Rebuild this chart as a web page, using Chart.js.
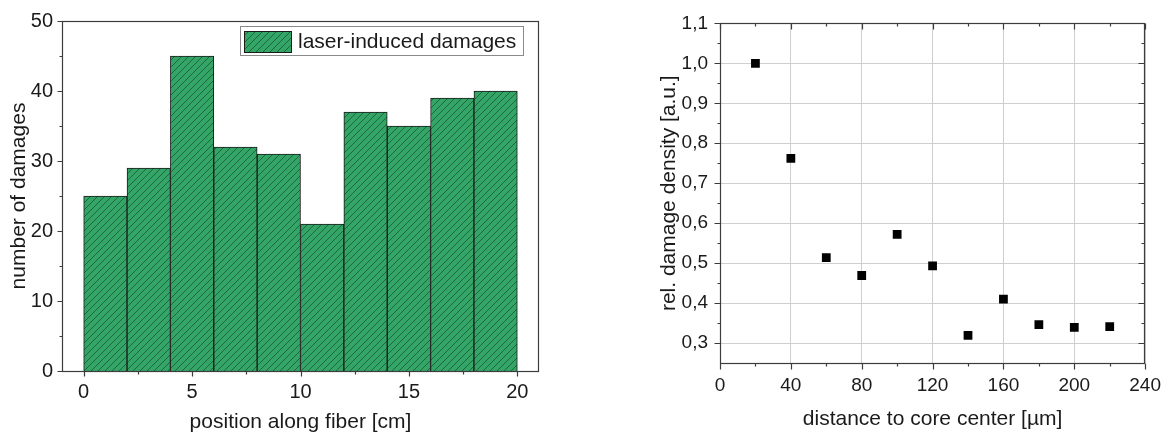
<!DOCTYPE html>
<html><head><meta charset="utf-8">
<script src="https://cdn.jsdelivr.net/npm/chart.js@4.4.1/dist/chart.umd.min.js"></script>
<style>
html,body{margin:0;padding:0;background:#fff;}
#wrap{position:relative;width:1172px;height:435px;overflow:hidden;background:#fff;}
#c1{position:absolute;left:0;top:0;}
#c2{position:absolute;left:655px;top:0;}
</style></head><body>
<div id="wrap">
<canvas id="c1" width="580" height="435"></canvas>
<canvas id="c2" width="517" height="435"></canvas>
</div>
<script>
// ---- data: left histogram ----
const binCenters = [1, 3, 5, 7, 9, 11, 13, 15, 17, 19];
const damageCounts = [25, 29, 45, 32, 31, 21, 37, 35, 39, 40];
const leftXTicks = [0, 5, 10, 15, 20];
const leftXMinor = [2.5, 7.5, 12.5, 17.5];
const leftYTicks = [0, 10, 20, 30, 40, 50];
const leftYMinor = [5, 15, 25, 35, 45];
// ---- data: right scatter ----
const distances = [20, 40, 60, 80, 100, 120, 140, 160, 180, 200, 220];
const relDensity = [1.0, 0.762, 0.514, 0.469, 0.572, 0.493, 0.319, 0.410, 0.346, 0.339, 0.341];
const rightXTicks = [0, 40, 80, 120, 160, 200, 240];
const rightXMinor = [20, 60, 100, 140, 180, 220];
const rightYTicks = [0.3, 0.4, 0.5, 0.6, 0.7, 0.8, 0.9, 1.0, 1.1];
const rightYMinor = [0.35, 0.45, 0.55, 0.65, 0.75, 0.85, 0.95, 1.05];

const FONT = "'Liberation Sans', Arial, sans-serif";
const TXT = '#1a1a1a';
const AXIS = '#3c3c3c';

function hatch() {
  const n = 7;
  const c = document.createElement('canvas');
  c.width = n; c.height = n;
  const g = c.getContext('2d');
  g.fillStyle = '#33a566';
  g.fillRect(0, 0, n, n);
  g.strokeStyle = 'rgba(22,70,42,0.75)';
  g.lineWidth = 0.9;
  g.beginPath();
  g.moveTo(0, n); g.lineTo(n, 0);
  g.moveTo(-1, 1); g.lineTo(1, -1);
  g.moveTo(n - 1, n + 1); g.lineTo(n + 1, n - 1);
  g.stroke();
  return g.createPattern(c, 'repeat');
}
const HATCH = hatch();

const frameTicks = {
  id: 'frameTicks',
  afterDatasetsDraw(chart, args, o) {
    const {ctx, chartArea: a, scales: {x, y}} = chart;
    const al = v => Math.round(v) + 0.5;
    const L = al(a.left), R = al(a.right) - 1, T = al(a.top), B = al(a.bottom);
    ctx.save();
    ctx.strokeStyle = AXIS; ctx.lineWidth = 1.2;
    ctx.strokeRect(L, T, R - L, B - T);
    ctx.beginPath();
    const xt = (vals, len) => vals.forEach(v => {
      const p = al(x.getPixelForValue(v));
      ctx.moveTo(p, B); ctx.lineTo(p, B + len);
      if (o.mirror) { ctx.moveTo(p, T); ctx.lineTo(p, T + len); }
    });
    const yt = (vals, len) => vals.forEach(v => {
      const p = al(y.getPixelForValue(v));
      ctx.moveTo(L, p); ctx.lineTo(L - len, p);
      if (o.mirror) { ctx.moveTo(R, p); ctx.lineTo(R - len, p); }
    });
    xt(o.xMajor, o.majorLen); xt(o.xMinor, o.minorLen);
    yt(o.yMajor, o.majorLen); yt(o.yMinor, o.minorLen);
    ctx.stroke();
    ctx.restore();
  }
};

const hatchLegend = {
  id: 'hatchLegend',
  afterDatasetsDraw(chart, args, o) {
    if (!o.show) return;
    const {ctx} = chart;
    const ds = chart.data.datasets[0];
    const bx = 240, by = 26.5, bw = 283, bh = 29;
    ctx.save();
    ctx.fillStyle = '#fff';
    ctx.fillRect(bx, by, bw, bh);
    ctx.strokeStyle = '#8a8a8a'; ctx.lineWidth = 1;
    ctx.strokeRect(bx + 0.5, by, bw, bh);
    ctx.fillStyle = ds.backgroundColor;
    ctx.fillRect(244, 31, 47, 22);
    ctx.strokeStyle = '#1a1a1a';
    ctx.strokeRect(244.5, 31.5, 47, 21);
    ctx.fillStyle = TXT;
    ctx.font = '21px ' + FONT;
    ctx.textBaseline = 'middle';
    ctx.fillText(ds.label, 298, 42);
    ctx.restore();
  }
};

const setTicks = arr => s => { s.ticks = arr.map(v => ({value: v})); };

new Chart(document.getElementById('c1'), {
  type: 'bar',
  data: {
    datasets: [{
      label: 'laser-induced damages',
      data: binCenters.map((c, i) => ({x: c, y: damageCounts[i]})),
      backgroundColor: HATCH,
      borderColor: '#1a1a1a',
      borderWidth: 1,
      barPercentage: 1,
      categoryPercentage: 1
    }]
  },
  options: {
    responsive: false, animation: false,
    layout: {padding: {top: 16, right: 41, left: 0, bottom: 0}},
    plugins: {
      legend: {display: false}, tooltip: {enabled: false},
      frameTicks: {xMajor: leftXTicks, xMinor: leftXMinor, yMajor: leftYTicks, yMinor: leftYMinor, majorLen: 5, minorLen: 3, mirror: false},
      hatchLegend: {show: true}
    },
    scales: {
      x: {
        type: 'linear', min: -1, max: 21, offset: false,
        afterBuildTicks: setTicks(leftXTicks),
        afterFit: s => { s.height = 64; },
        grid: {display: false, drawTicks: false}, border: {display: false},
        ticks: {font: {family: FONT, size: 20}, color: TXT, padding: 9, maxRotation: 0, autoSkip: false},
        title: {display: true, text: 'position along fiber [cm]', font: {family: FONT, size: 21}, color: TXT, padding: {top: 0, bottom: 0}}
      },
      y: {
        min: 0, max: 50,
        afterBuildTicks: setTicks(leftYTicks),
        afterFit: s => { s.width = 62; },
        grid: {display: false, drawTicks: false}, border: {display: false},
        ticks: {font: {family: FONT, size: 20}, color: TXT, padding: 9},
        title: {display: true, text: 'number of damages', font: {family: FONT, size: 21}, color: TXT, padding: {top: 7, bottom: 0}}
      }
    }
  },
  plugins: [frameTicks, hatchLegend]
});

new Chart(document.getElementById('c2'), {
  type: 'scatter',
  data: {
    datasets: [{
      label: 'rel. damage density',
      data: distances.map((d, i) => ({x: d, y: relDensity[i]})),
      backgroundColor: '#000', borderColor: '#000',
      pointStyle: 'rect', pointRadius: 6.2, borderWidth: 0
    }]
  },
  options: {
    responsive: false, animation: false,
    layout: {padding: {top: 17, right: 19, left: 0, bottom: 0}},
    plugins: {
      legend: {display: false}, tooltip: {enabled: false},
      frameTicks: {xMajor: rightXTicks, xMinor: rightXMinor, yMajor: rightYTicks, yMinor: rightYMinor, majorLen: 6, minorLen: 3, mirror: true},
      hatchLegend: {show: false}
    },
    scales: {
      x: {
        type: 'linear', min: 0, max: 240,
        afterBuildTicks: setTicks(rightXTicks),
        afterFit: s => { s.height = 72; },
        grid: {display: true, color: '#cfcfcf', lineWidth: 1, drawTicks: false}, border: {display: false},
        ticks: {font: {family: FONT, size: 19}, color: TXT, padding: 11, maxRotation: 0, autoSkip: false},
        title: {display: true, text: 'distance to core center [µm]', font: {family: FONT, size: 21}, color: TXT, padding: {top: 0, bottom: 3}}
      },
      y: {
        min: 0.25, max: 1.1,
        afterBuildTicks: setTicks(rightYTicks),
        afterFit: s => { s.width = 65; },
        grid: {display: true, color: '#cfcfcf', lineWidth: 1, drawTicks: false}, border: {display: false},
        ticks: {font: {family: FONT, size: 19}, color: TXT, padding: 12, callback: v => v.toFixed(1).replace('.', ',')},
        title: {display: true, text: 'rel. damage density [a.u.]', font: {family: FONT, size: 21}, color: TXT, padding: {top: 2, bottom: 0}}
      }
    }
  },
  plugins: [frameTicks]
});
</script>
</body></html>
